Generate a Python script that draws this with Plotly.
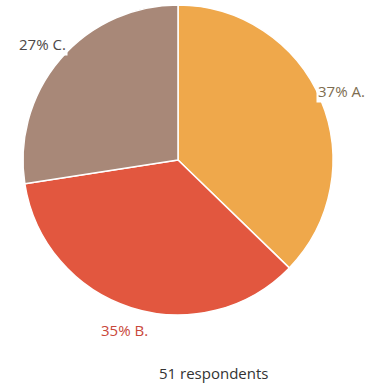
import math
import plotly.graph_objects as go

labels = ["A.", "B.", "C."]
counts = [19, 18, 14]
colors = ["#EFA84B", "#E2573F", "#A88878"]
text_colors = ["#7d6d50", "#c9473a", "#4d4747"]
total_label = "51 respondents"

W, H = 377, 392
cx, cy, R = 178, 160, 155
label_r = 178

fig = go.Figure(go.Pie(
    labels=labels, values=counts, sort=False, direction="clockwise", rotation=0,
    marker=dict(colors=colors, line=dict(color="white", width=1.5)),
    textinfo="none", hoverinfo="label+percent", showlegend=False,
    domain=dict(x=[(cx - R) / W, (cx + R) / W], y=[(H - cy - R) / H, (H - cy + R) / H]),
))

total = sum(counts)
ann = []
start = 0.0
for lab, c, tc in zip(labels, counts, text_colors):
    frac = c / total
    mid = (start + frac / 2) * 2 * math.pi
    start += frac
    px = cx + label_r * math.sin(mid)
    py = cy - label_r * math.cos(mid)
    ann.append(dict(
        x=px / W, y=1 - py / H, xref="paper", yref="paper", showarrow=False,
        text=f"{round(frac * 100)}% {lab}", font=dict(size=15, color=tc, family="Open Sans"),
        bgcolor="white", xanchor="center", yanchor="middle",
    ))
ann.append(dict(
    x=214 / W, y=1 - 373 / H, xref="paper", yref="paper", showarrow=False,
    text=total_label, font=dict(size=15, color="#333333", family="Open Sans"),
    xanchor="center", yanchor="middle",
))

fig.update_layout(
    width=W, height=H, margin=dict(l=0, r=0, t=0, b=0),
    paper_bgcolor="white", plot_bgcolor="white", annotations=ann,
)
fig.write_html("out.html")
